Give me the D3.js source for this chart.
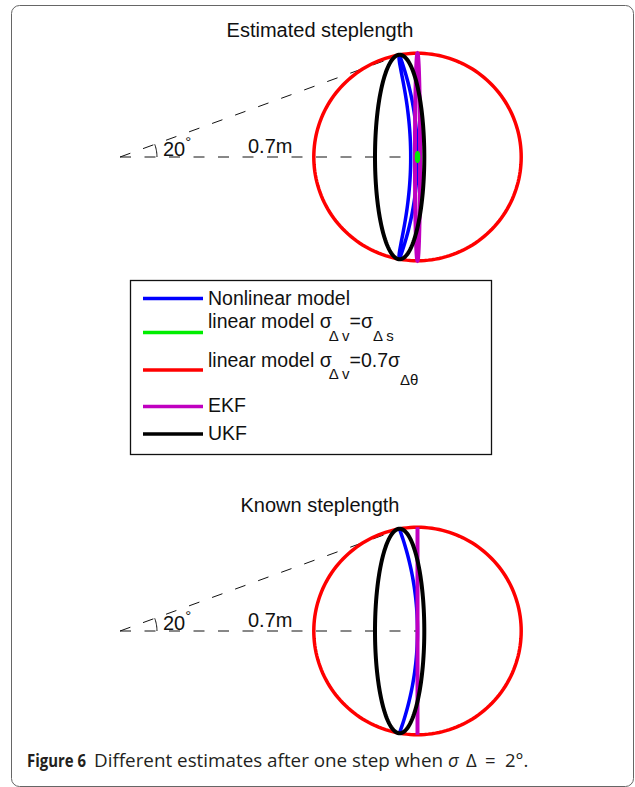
<!DOCTYPE html>
<html>
<head>
<meta charset="utf-8">
<script src="https://cdn.jsdelivr.net/npm/d3@7"></script>
<style>
  html, body { margin: 0; padding: 0; background: #fff; }
  svg { display: block; }
  .lbl { font-family: "Liberation Sans", Arial, Helvetica, sans-serif; fill: #111; }
  .cap { font-family: "Open Sans", "Noto Sans", sans-serif; fill: #231f20; }
</style>
</head>
<body>
<svg id="fig" width="635" height="787"></svg>
<script>
// ---- data (metres / degrees) ----
const panelTitles = ["Estimated steplength", "Known steplength"];
const stepLength = 0.7;          // nominal step, m
const headingSpread = 20;        // heading bound, degrees
const seriesNames = ["Nonlinear model", "linear model σΔv=σΔs", "linear model σΔv=0.7σΔθ", "EKF", "UKF"];

// nonlinear model: banana region along the arc, [outer radius, inner radius at mid-heading], per panel
const nonlinearRadii = [[0.700, 0.684], [0.700, 0.700]];
// ellipses per panel: [centre x, centre y, semi-axis x, semi-axis y]
const linearSsEllipse    = [[0.700, 0, 0.0024, 0.0100], null];
const linearThetaEllipse = [[0.700, 0, 0.2440, 0.2440], [0.700, 0, 0.2440, 0.2440]];
const ekfEllipse         = [[0.700, 0, 0.0060, 0.2440], [0.700, 0, 0.0000, 0.2440]];
const ukfEllipse         = [[0.658, 0, 0.0580, 0.2405], [0.658, 0, 0.0580, 0.2405]];

// ---- styling ----
const colors = { nonlinear: "#0000ff", linSs: "#00ee00", linTheta: "#ff0000", ekf: "#c000c0", ukf: "#000000" };
const legendColors = [colors.nonlinear, colors.linSs, colors.linTheta, colors.ekf, colors.ukf];

const svg = d3.select("#fig");

// figure frame
svg.append("rect").attr("x", 11.5).attr("y", 5.5).attr("width", 622).attr("height", 781)
  .attr("rx", 8).attr("fill", "none").attr("stroke", "#666").attr("stroke-width", 1);

const pxPerM = 425;
const x = d3.scaleLinear().domain([0, 1]).range([120, 120 + pxPerM]);
const panelOriginY = [157, 631];
const panelTitleY = [37, 512];

const line = d3.line().curve(d3.curveLinearClosed);
const openLine = d3.line();
const rad = d => d * Math.PI / 180;

panelTitles.forEach((title, p) => {
  const y = d3.scaleLinear().domain([0, 1]).range([panelOriginY[p], panelOriginY[p] - pxPerM]);
  const g = svg.append("g");

  g.append("text").attr("class", "lbl").attr("x", 320).attr("y", panelTitleY[p])
    .attr("text-anchor", "middle").attr("font-size", 20).text(title);

  // dashed construction lines: straight ahead and at +20 degrees
  const ang = rad(headingSpread);
  const dashColor = "#111";
  g.append("path").attr("d", openLine([[x(0), y(0)], [x(stepLength), y(0)]]))
    .attr("stroke", dashColor).attr("stroke-width", 1).attr("stroke-dasharray", "11,13.5").attr("fill", "none");
  g.append("path").attr("d", openLine([[x(0), y(0)], [x(stepLength * Math.cos(ang)), y(stepLength * Math.sin(ang))]]))
    .attr("stroke", dashColor).attr("stroke-width", 1).attr("stroke-dasharray", "11,13.5").attr("fill", "none");
  // angle marker
  const arcR = 0.087;
  const arcPts = d3.range(0, headingSpread + 0.1, 2).map(a => [x(arcR * Math.cos(rad(a))), y(arcR * Math.sin(rad(a)))]);
  g.append("path").attr("d", openLine(arcPts)).attr("stroke", dashColor).attr("stroke-width", 1).attr("fill", "none");

  // labels
  const t20 = g.append("text").attr("class", "lbl").attr("x", 163).attr("y", y(0) - 1).attr("font-size", 20);
  t20.append("tspan").text("20");
  t20.append("tspan").attr("font-size", 15).attr("dy", -9).text("°");
  g.append("text").attr("class", "lbl").attr("x", 248).attr("y", y(0) - 4).attr("font-size", 20).text("0.7m");

  const ellipsePath = e => {
    const pts = d3.range(0, 360, 2).map(a => [x(e[0] + e[2] * Math.cos(rad(a))), y(e[1] + e[3] * Math.sin(rad(a)))]);
    return line(pts);
  };

  // red: linear model with sigma_v = 0.7 sigma_theta
  g.append("path").attr("d", ellipsePath(linearThetaEllipse[p]))
    .attr("fill", "none").attr("stroke", colors.linTheta).attr("stroke-width", 3.5);

  // blue: nonlinear model, banana-shaped region along the step arc
  const [rOut, rIn] = nonlinearRadii[p];
  const angles = d3.range(-headingSpread, headingSpread + 0.01, 0.5);
  const taper = a => Math.sqrt(Math.max(0, 1 - (a / headingSpread) ** 2));
  const outer = angles.map(a => [x(rOut * Math.cos(rad(a))), y(rOut * Math.sin(rad(a)))]);
  const inner = angles.slice().reverse().map(a => {
    const r = rOut - (rOut - rIn) * taper(a);
    return [x(r * Math.cos(rad(a))), y(r * Math.sin(rad(a)))];
  });
  g.append("path").attr("d", line(outer.concat(inner)))
    .attr("fill", "none").attr("stroke", colors.nonlinear).attr("stroke-width", 3.5).attr("stroke-linejoin", "round");

  // magenta: EKF
  g.append("path").attr("d", ellipsePath(ekfEllipse[p]))
    .attr("fill", "none").attr("stroke", colors.ekf).attr("stroke-width", 4);

  // black: UKF
  g.append("path").attr("d", ellipsePath(ukfEllipse[p]))
    .attr("fill", "none").attr("stroke", colors.ukf).attr("stroke-width", 4);

  // green: linear model with sigma_v = sigma_s
  if (linearSsEllipse[p]) {
    g.append("path").attr("d", ellipsePath(linearSsEllipse[p]))
      .attr("fill", "none").attr("stroke", colors.linSs).attr("stroke-width", 3.5);
  }
});

// ---- legend ----
const lg = svg.append("g");
lg.append("rect").attr("x", 130.5).attr("y", 280.5).attr("width", 361).attr("height", 174)
  .attr("fill", "#fff").attr("stroke", "#111").attr("stroke-width", 1.3);
const legendLineY = [298.5, 332.5, 370, 406.5, 434];
const legendTextY = [305, 328, 366.5, 411.5, 440];
seriesNames.forEach((name, i) => {
  lg.append("line").attr("x1", 143).attr("x2", 203).attr("y1", legendLineY[i]).attr("y2", legendLineY[i])
    .attr("stroke", legendColors[i]).attr("stroke-width", 3.5);
});
const fs = 19.5, sfs = 15;
function legendText(i, parts) {
  const t = lg.append("text").attr("class", "lbl").attr("x", 208).attr("y", legendTextY[i]).attr("font-size", fs);
  parts.forEach(pt => {
    const s = t.append("tspan").text(pt.t);
    if (pt.sub) s.attr("font-size", sfs);
    if (pt.dy) s.attr("dy", pt.dy);
    if (pt.dx) s.attr("dx", pt.dx);
  });
}
legendText(0, [{ t: "Nonlinear model" }]);
legendText(1, [{ t: "linear model σ" }, { t: "Δ v", sub: true, dy: 13, dx: -3 }, { t: "=σ", dy: -13 }, { t: "Δ s", sub: true, dy: 13 }]);
legendText(2, [{ t: "linear model σ" }, { t: "Δ v", sub: true, dy: 12.5, dx: -3 }, { t: "=0.7σ", dy: -12.5 }, { t: "Δθ", sub: true, dy: 18 }]);
legendText(3, [{ t: "EKF" }]);
legendText(4, [{ t: "UKF" }]);

// ---- caption ----
const capY = 767;
svg.append("text").attr("class", "cap").attr("x", 27).attr("y", capY).attr("font-size", 18.5)
  .attr("font-weight", "bold").attr("textLength", 59).attr("lengthAdjust", "spacingAndGlyphs").text("Figure 6");
svg.append("text").attr("class", "cap").attr("x", 94).attr("y", capY).attr("font-size", 18.5)
  .attr("textLength", 349).attr("lengthAdjust", "spacingAndGlyphs").text("Different estimates after one step when");
svg.append("text").attr("class", "cap").attr("x", 448).attr("y", capY).attr("font-size", 18.5)
  .attr("font-style", "italic").attr("font-family", "'DejaVu Serif', serif").text("σ");
svg.append("text").attr("class", "cap").attr("x", 466).attr("y", capY).attr("font-size", 18.5).text("Δ");
svg.append("text").attr("class", "cap").attr("x", 485).attr("y", capY).attr("font-size", 18.5).text("=");
svg.append("text").attr("class", "cap").attr("x", 505).attr("y", capY).attr("font-size", 18.5).text("2°.");
</script>
</body>
</html>
